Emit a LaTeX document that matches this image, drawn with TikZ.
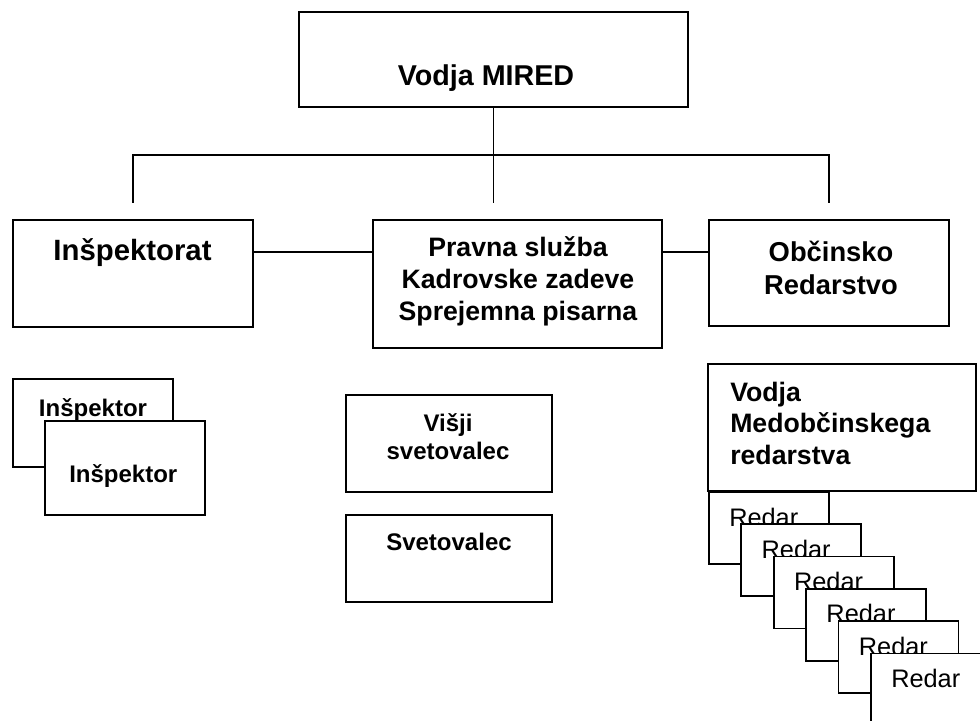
\documentclass[tikz,border=0pt]{standalone}
\usepackage{fontspec}
\setmainfont{Liberation Sans}
\usetikzlibrary{calc}
\begin{document}
\begin{tikzpicture}[x=0.75pt,y=-0.75pt,
  box/.style 2 args={draw,line width=1.4pt,fill=white,inner sep=0pt,minimum width=#1*0.75pt,minimum height=#2*0.75pt},
  txt/.style 2 args={inner sep=0pt,font=\bfseries\fontsize{#1}{#2}\selectfont},
  redartxt/.style={inner sep=0pt,font=\fontsize{19}{22}\selectfont},
  line/.style={line width=1.4pt}]
  \useasboundingbox (0,0) rectangle (980,720);
  \clip (0,0) rectangle (980,720);

  % upper level
  \node[box={389}{95}] (mired) at (493.5,59.5) {};
  \node[txt={21.5}{26}] (miredtxt) at (486,78) {Vodja MIRED};
  \node[box={240}{107}] (insp) at (133,273.5) {};
  \node[txt={22}{26}] (insptxt) at (132.5,253) {Inšpektorat};
  \node[box={289}{128}] (pravna) at (517.5,284) {};
  \node[txt={20}{24},align=center] (pravnatxt) at (518,281) {Pravna služba\\Kadrovske zadeve\\Sprejemna pisarna};
  \node[box={240}{106}] (obc) at (829,273) {};
  \node[txt={20.5}{24.75},align=center] (obctxt) at (831,267.5) {Občinsko\\Redarstvo};

  % connectors
  \coordinate (bus) at (0,155);
  \coordinate (drop) at (0,203);
  \coordinate (link) at (0,252);
  \draw[line] (mired.south) -- (mired.south |- drop);
  \draw[line] (insp.north |- drop) -- (insp.north |- bus) -- (obc.north |- bus) -- (obc.north |- drop);
  \draw[line] (insp.east |- link) -- (pravna.west |- link);
  \draw[line] (pravna.east |- link) -- (obc.west |- link);

  % lower level
  \node[box={160}{88}] (inspA) at (93,423) {};
  \node[txt={18}{20}] (inspAtxt) at (93,410) {Inšpektor};
  \node[box={160}{94}] (inspB) at (125,468) {};
  \node[txt={18}{20}] (inspBtxt) at (123.3,476) {Inšpektor};

  \node[box={206}{97}] (visji) at (449,443.5) {};
  \node[txt={18}{20.5},align=center] (visjitxt) at (448,436.5) {Višji\\svetovalec};
  \node[box={206}{87}] (svet) at (449,558.5) {};
  \node[txt={18}{20}] (svettxt) at (449,542) {Svetovalec};

  \node[box={268}{127}] (vodja) at (842,427.5) {};
  \node[txt={20}{23.6},align=left,anchor=west] (vodjatxt) at (730,423) {Vodja\\Medobčinskega\\redarstva};
  \foreach \i in {0,...,5} {
    \node[box={120}{72},anchor=north west] (redar\i) at (708+32.4*\i,491+32.3*\i) {};
    \node[redartxt,anchor=west] (redartxt\i) at ($(redar\i.north west)+(21,26)$) {Redar};
  }
\end{tikzpicture}
\end{document}
